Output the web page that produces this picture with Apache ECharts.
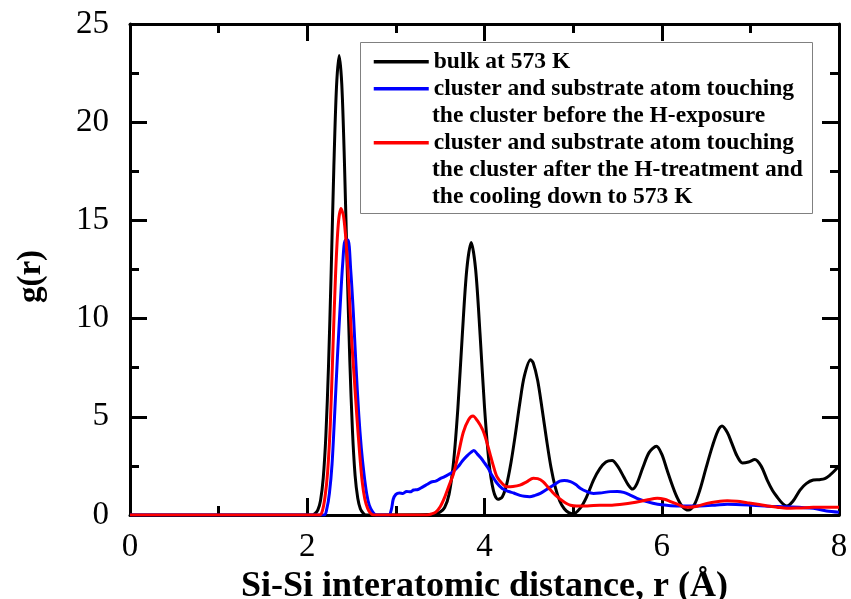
<!DOCTYPE html>
<html>
<head>
<meta charset="utf-8">
<script src="https://cdn.jsdelivr.net/npm/echarts@6/dist/echarts.min.js"></script>
<style>
html,body{margin:0;padding:0;background:#fff;}
#chart{width:851px;height:599px;}
</style>
</head>
<body>
<div id="chart"></div>
<script>
// ---- data (r in Å, g(r)) ----
const seriesNames = [
  'bulk at 573 K',
  'cluster and substrate atom touching',
  'cluster and substrate atom touching '
];
const legendExtraLines = [
  [],
  ['the cluster before the H-exposure'],
  ['the cluster after the H-treatment and', 'the cooling down to 573 K']
];
const xTicks = [0, 2, 4, 6, 8];
const yTicks = [0, 5, 10, 15, 20, 25];

const bulkData = [
  [0,0],[2.06,0],[2.09,0.08],[2.12,0.26],[2.15,0.74],[2.18,1.86],[2.21,4.03],[2.24,7.6],[2.27,12.4],
  [2.30,17.7],[2.33,21.8],[2.36,23.4],[2.39,21.9],[2.42,17.9],[2.45,12.7],[2.48,7.9],[2.51,4.3],
  [2.54,2.0],[2.57,0.85],[2.60,0.3],[2.63,0.1],[2.66,0],[3.40,0.02],[3.45,0.08],[3.50,0.15],
  [3.55,0.38],[3.60,1.05],[3.65,2.66],[3.70,5.47],[3.75,9.2],[3.80,12.5],[3.85,13.87],[3.90,12.5],
  [3.95,9.2],[4.00,5.5],[4.05,2.72],[4.10,1.25],[4.15,0.8],[4.20,0.92],[4.25,1.56],[4.30,2.7],
  [4.35,4.16],[4.40,5.74],[4.45,7.08],[4.52,7.9],[4.55,7.74],[4.60,6.85],[4.65,5.4],[4.70,3.84],
  [4.75,2.43],[4.80,1.39],[4.85,0.7],[4.90,0.32],[4.95,0.12],[5.00,0.05],[5.08,0.35],[5.15,0.9],
  [5.23,1.78],[5.30,2.35],[5.37,2.7],[5.44,2.77],[5.50,2.5],[5.57,1.95],[5.62,1.55],[5.67,1.32],
  [5.72,1.6],[5.79,2.46],[5.86,3.2],[5.94,3.5],[6.00,3.1],[6.06,2.29],[6.12,1.5],[6.17,0.93],
  [6.23,0.45],[6.30,0.25],[6.37,0.55],[6.43,1.27],[6.50,2.4],[6.57,3.48],[6.63,4.25],[6.68,4.53],
  [6.74,4.2],[6.79,3.66],[6.85,3.0],[6.91,2.65],[6.98,2.7],[7.05,2.82],[7.12,2.5],[7.19,1.78],
  [7.25,1.25],[7.30,0.93],[7.36,0.6],[7.41,0.46],[7.48,0.7],[7.56,1.27],[7.63,1.6],[7.71,1.78],
  [7.78,1.8],[7.84,1.85],[7.90,2.04],[7.95,2.25],[8.00,2.49]
];

const beforeData = [
  [0,0],[2.19,0],[2.22,0.3],[2.25,1.1],[2.28,2.6],[2.31,5.2],[2.34,8.0],[2.37,10.5],[2.40,12.8],
  [2.43,14.0],[2.46,14.0],[2.49,12.5],[2.52,10.3],[2.55,7.6],[2.58,5.2],[2.61,3.4],[2.64,2.1],
  [2.67,1.1],[2.70,0.5],[2.74,0.15],[2.78,0],[2.92,0],[2.95,0.3],[2.97,0.8],[3.00,1.05],[3.04,1.12],
  [3.08,1.1],[3.12,1.2],[3.16,1.18],[3.20,1.27],[3.25,1.3],[3.30,1.42],[3.35,1.55],[3.40,1.68],
  [3.45,1.72],[3.50,1.85],[3.55,1.95],[3.60,2.08],[3.65,2.22],[3.70,2.45],[3.75,2.75],[3.80,3.0],
  [3.85,3.2],[3.88,3.28],[3.92,3.1],[3.96,2.9],[4.00,2.65],[4.04,2.4],[4.08,2.05],[4.14,1.63],
  [4.20,1.35],[4.27,1.2],[4.33,1.12],[4.40,1.0],[4.45,0.95],[4.51,0.93],[4.57,1.0],[4.63,1.1],
  [4.70,1.3],[4.78,1.53],[4.85,1.72],[4.90,1.76],[4.97,1.7],[5.03,1.55],[5.08,1.36],[5.15,1.2],
  [5.23,1.1],[5.30,1.12],[5.42,1.19],[5.50,1.2],[5.57,1.15],[5.65,1.0],[5.72,0.85],[5.80,0.72],
  [5.90,0.6],[6.00,0.52],[6.17,0.46],[6.43,0.46],[6.60,0.5],[6.74,0.55],[7.03,0.5],[7.20,0.45],
  [7.41,0.42],[7.71,0.34],[7.86,0.2],[8.00,0.14]
];

const afterData = [
  [0,0],[2.14,0],[2.17,0.2],[2.20,0.9],[2.23,2.2],[2.26,4.6],[2.29,8.5],[2.32,12.3],[2.35,14.8],
  [2.38,15.6],[2.41,15.2],[2.44,13.8],[2.47,11.6],[2.50,9.0],[2.53,7.0],[2.56,5.0],[2.59,3.2],
  [2.62,1.7],[2.65,0.8],[2.68,0.35],[2.71,0.12],[2.75,0],[3.35,0],[3.40,0.05],[3.45,0.15],
  [3.50,0.42],[3.55,0.9],[3.60,1.5],[3.65,2.1],[3.70,3.0],[3.76,4.2],[3.82,4.85],[3.87,5.04],
  [3.92,4.8],[3.98,4.33],[4.02,3.8],[4.06,3.15],[4.10,2.5],[4.14,1.95],[4.20,1.6],[4.25,1.44],
  [4.32,1.45],[4.40,1.52],[4.48,1.7],[4.55,1.87],[4.60,1.85],[4.66,1.7],[4.72,1.4],[4.77,1.15],
  [4.82,0.93],[4.87,0.75],[4.92,0.6],[4.97,0.5],[5.04,0.46],[5.16,0.46],[5.30,0.5],[5.42,0.5],
  [5.55,0.55],[5.67,0.62],[5.83,0.76],[5.95,0.85],[6.03,0.8],[6.10,0.68],[6.20,0.5],[6.28,0.39],
  [6.40,0.45],[6.51,0.59],[6.62,0.68],[6.74,0.73],[6.85,0.7],[6.96,0.63],[7.08,0.55],[7.19,0.46],
  [7.30,0.4],[7.41,0.34],[7.55,0.36],[7.71,0.39],[7.85,0.4],[8.00,0.4]
];

const seriesData = [bulkData, beforeData, afterData];
const seriesColors = ['#000000', '#0000ff', '#ff0000'];

// ---- chart ----
const chart = echarts.init(document.getElementById('chart'), null, {renderer: 'canvas'});
const FONT = '"Liberation Serif", "Times New Roman", serif';

const G = {left: 130, right: 12, top: 24, bottom: 84};
const legendLeft = 372, legendRow0 = 61.5, rowStep = 27, legendFont = 23.5;

function axisCommon(showLabel) {
  return {
    axisLine: {show: true, onZero: false, lineStyle: {color: '#000', width: 3}},
    axisTick: {show: true, inside: true, length: 17, lineStyle: {color: '#000', width: 3}},
    minorTick: {show: true, splitNumber: 2, length: 9, lineStyle: {color: '#000', width: 3}},
    splitLine: {show: false},
    minorSplitLine: {show: false},
    axisLabel: {show: showLabel, color: '#000', fontFamily: FONT, fontSize: 33}
  };
}

// legend rows: each series gets its own legend component (first line),
// continuation lines drawn as text
let row = 0;
const legends = [];
const extraTexts = [];
seriesNames.forEach((name, i) => {
  legends.push({
    show: true,
    z: 20,
    left: legendLeft,
    top: legendRow0 + row * rowStep - legendFont / 2,
    padding: 0,
    orient: 'vertical',
    itemWidth: 55,
    itemHeight: 4,
    selectedMode: false,
    data: [name],
    formatter: (n) => n.trim(),
    itemStyle: {opacity: 0, borderWidth: 0},
    lineStyle: {width: 3.5},
    textStyle: {fontFamily: FONT, fontSize: legendFont, fontWeight: 'bold', color: '#000', lineHeight: legendFont}
  });
  row++;
  legendExtraLines[i].forEach(line => {
    extraTexts.push({
      type: 'text',
      x: legendLeft + 55 + 5,
      y: legendRow0 + row * rowStep,
      silent: true,
      z: 20,
      style: {text: line, font: 'bold ' + legendFont + 'px ' + FONT, fill: '#000', verticalAlign: 'middle', align: 'left'}
    });
    row++;
  });
});

const option = {
  backgroundColor: '#ffffff',
  animation: false,
  grid: Object.assign({outerBoundsMode: 'none', containLabel: false}, G),
  legend: legends,
  graphic: [
    {type: 'rect', z: 5, shape: {x: 360.5, y: 42.5, width: 452, height: 171}, style: {fill: '#fff', stroke: '#808080', lineWidth: 1}, silent: true}
  ].concat(extraTexts),
  xAxis: [
    Object.assign(axisCommon(true), {
      type: 'value', position: 'bottom', min: 0, max: 8, interval: 2,
      name: 'Si-Si interatomic distance, r (Å)', nameLocation: 'middle', nameGap: 43,
      nameTextStyle: {fontFamily: FONT, fontSize: 36, fontWeight: 'bold', color: '#000', lineHeight: 36},
      axisLabel: {show: true, color: '#000', fontFamily: FONT, fontSize: 33, margin: 16,
        formatter: v => xTicks.includes(v) ? String(v) : ''}
    }),
    Object.assign(axisCommon(false), {type: 'value', position: 'top', min: 0, max: 8, interval: 2})
  ],
  yAxis: [
    Object.assign(axisCommon(true), {
      type: 'value', position: 'left', min: 0, max: 25, interval: 5,
      name: 'g(r)', nameLocation: 'middle', nameGap: 82,
      nameTextStyle: {fontFamily: FONT, fontSize: 33, fontWeight: 'bold', color: '#000', lineHeight: 33, padding: [0, 14, 0, 0]},
      axisLabel: {show: true, color: '#000', fontFamily: FONT, fontSize: 33, margin: 21,
        formatter: v => yTicks.includes(v) ? String(v) : ''}
    }),
    Object.assign(axisCommon(false), {type: 'value', position: 'right', min: 0, max: 25, interval: 5})
  ],
  series: seriesNames.map((name, i) => ({
    name: name,
    type: 'line',
    xAxisIndex: 0,
    yAxisIndex: 0,
    data: seriesData[i],
    showSymbol: false,
    symbol: 'none',
    symbolSize: 0,
    smooth: 0.3,
    clip: true,
    lineStyle: {color: seriesColors[i], width: 3},
    itemStyle: {color: seriesColors[i]},
    emphasis: {disabled: true},
    z: 2 + i
  }))
};
chart.setOption(option);
</script>
</body>
</html>
